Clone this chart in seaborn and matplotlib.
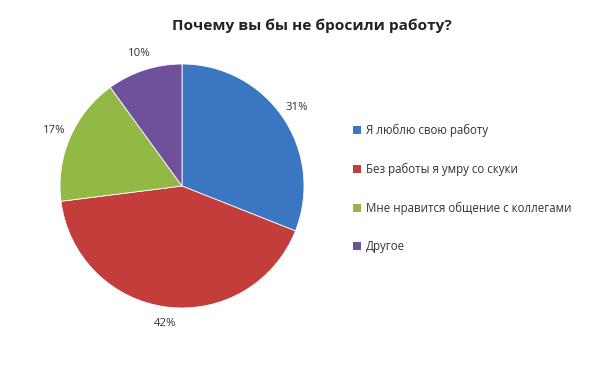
import matplotlib
matplotlib.use("Agg")
import matplotlib.pyplot as plt
import seaborn as sns
from matplotlib.patches import Patch

# данные с диаграммы
categories = ["Я люблю свою работу", "Без работы я умру со скуки",
              "Мне нравится общение с коллегами", "Другое"]
shares = [31, 42, 17, 10]
slice_colors = ["#3A76C2", "#C33D3A", "#92B846", "#6F509A"]
title = "Почему вы бы не бросили работу?"

sns.set_style("white")
plt.rcParams['font.family'] = ['Open Sans', 'DejaVu Sans']

fig = plt.figure(figsize=(6, 3.71), dpi=100)
ax = fig.add_axes([0.1, 0.1698, 0.4067, 0.6577])

wedges, texts, autotexts = ax.pie(
    shares, colors=slice_colors, startangle=90, counterclock=False,
    autopct='%.0f%%', pctdistance=1.14,
    wedgeprops=dict(linewidth=0.6, edgecolor='white'),
    textprops=dict(fontsize=8.2, color='#333333'))
ax.set_xlim(-1, 1)
ax.set_ylim(-1, 1)
ax.set_aspect('equal')

fig.text(312 / 600, 1 - 26 / 371, title, ha='center', va='center',
         fontsize=11.1, fontweight='bold', color='#222222')

handles = [Patch(facecolor=c, edgecolor='none') for c in slice_colors]
fig.legend(handles, categories, loc='upper left',
           bbox_to_anchor=(353 / 600, 1 - 124 / 371), frameon=False,
           fontsize=8.3, handlelength=0.7, handleheight=0.7, handletextpad=0.4,
           labelspacing=2.2, borderpad=0, borderaxespad=0,
           labelcolor='#333333')

fig.savefig("out.png", dpi=100, facecolor='white')
